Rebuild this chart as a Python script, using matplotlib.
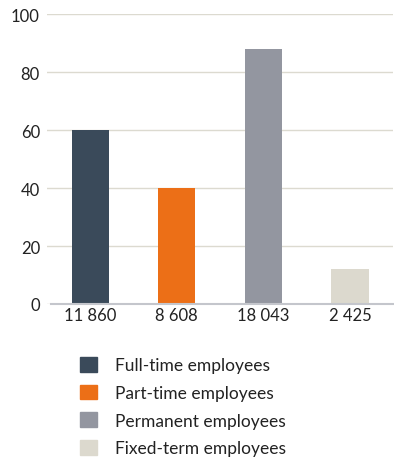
import matplotlib.pyplot as plt
from matplotlib.patches import Patch

plt.rcParams['font.family'] = ['Lato', 'DejaVu Sans']

labels = ['Full-time employees', 'Part-time employees', 'Permanent employees', 'Fixed-term employees']
counts = ['11 860', '8 608', '18 043', '2 425']
heights = [60, 40, 88, 12]
colors = ['#3a4a5a', '#ec6f17', '#9396a0', '#dcd9ce']

fig = plt.figure(figsize=(3.94, 4.6), dpi=100)
ax = fig.add_axes([0.119, 0.337, 0.879, 0.63])

x = range(len(heights))
ax.bar(x, heights, width=0.43, color=colors, zorder=3)

ax.set_xlim(-0.5, 3.5)
ax.set_ylim(0, 100)
ax.set_yticks([0, 20, 40, 60, 80, 100])
ax.set_xticks(list(x))
ax.set_xticklabels(counts)
ax.grid(axis='y', color='#dcdad0', linewidth=1, zorder=0)
for s in ['top', 'right', 'left']:
    ax.spines[s].set_visible(False)
ax.spines['bottom'].set_color('#c4c6cc')
ax.spines['bottom'].set_linewidth(1.5)
ax.spines['bottom'].set_bounds(-0.45, 3.5)
ax.spines['bottom'].set_zorder(4)
ax.tick_params(length=0, labelsize=12, colors='#222222')
ax.tick_params(axis='y', pad=5)
ax.tick_params(axis='x', pad=2)

handles = [Patch(color=c) for c in colors]
fig.legend(handles, labels, loc='upper left', bbox_to_anchor=(0.203, 0.222),
           frameon=False, fontsize=12.5, handlelength=1.0, handleheight=0.92,
           handletextpad=1.0, labelspacing=0.66, labelcolor='#222222',
           borderaxespad=0, borderpad=0)

fig.savefig('out.png', dpi=100)
